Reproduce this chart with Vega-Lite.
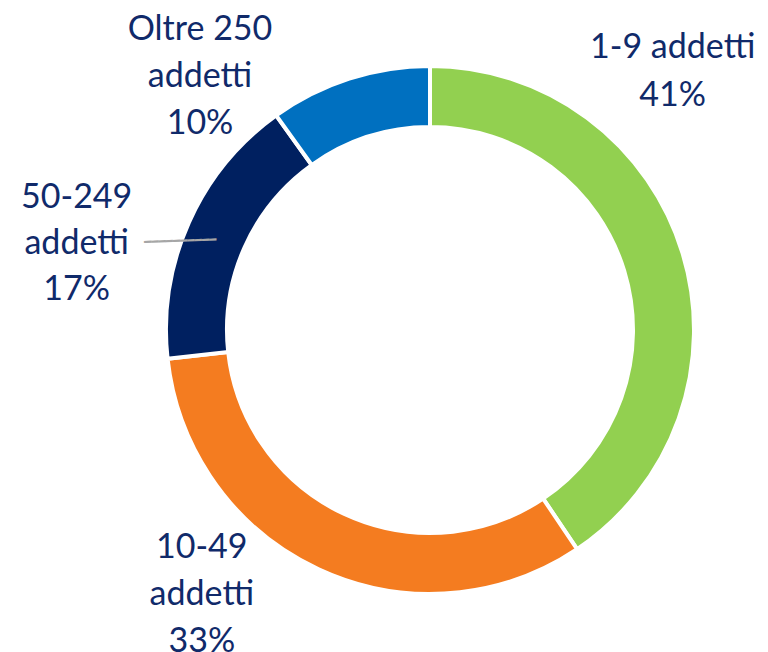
{
  "$schema": "https://vega.github.io/schema/vega-lite/v6.json",
  "width": 676,
  "height": 644,
  "autosize": {"type": "none"},
  "padding": {"left": 92, "top": 8, "right": 0, "bottom": 0},
  "background": "white",
  "config": {"view": {"stroke": null}},
  "data": {
    "values": [
      {"categoria": "1-9 addetti", "quota": 41, "ordine": 1, "etichetta": "1-9 addetti\n41%"},
      {"categoria": "10-49 addetti", "quota": 33, "ordine": 2, "etichetta": "10-49\naddetti\n33%"},
      {"categoria": "50-249 addetti", "quota": 17, "ordine": 3, "etichetta": "50-249\naddetti\n17%"},
      {"categoria": "Oltre 250 addetti", "quota": 10, "ordine": 4, "etichetta": "Oltre 250\naddetti\n10%"}
    ]
  },
  "encoding": {
    "theta": {"field": "quota", "type": "quantitative", "stack": true},
    "order": {"field": "ordine", "type": "quantitative", "sort": "ascending"}
  },
  "layer": [
    {
      "mark": {"type": "arc", "innerRadius": 203, "outerRadius": 264, "stroke": "white", "strokeWidth": 4},
      "encoding": {
        "color": {
          "field": "categoria",
          "type": "nominal",
          "scale": {
            "domain": ["1-9 addetti", "10-49 addetti", "50-249 addetti", "Oltre 250 addetti"],
            "range": ["#92d050", "#f47c20", "#002060", "#0070c0"]
          },
          "legend": null
        }
      }
    },
    {
      "mark": {"type": "text", "radius": 250, "dx": -22, "dy": 12, "font": "DejaVu Sans Mono", "fontSize": 12, "color": "#a6a6a6", "align": "center", "baseline": "middle", "angle": -2, "text": "━━━━━━━━━━"},
      "encoding": {"opacity": {"condition": {"test": "datum.categoria === '50-249 addetti'", "value": 1}, "value": 0}}
    },
    {
      "mark": {"type": "text", "radius": 330, "dx": -73, "dy": -186, "font": "Lato", "fontSize": 34, "lineHeight": 48, "lineBreak": "\n", "color": "#102a6a", "align": "center", "baseline": "middle"},
      "encoding": {"text": {"condition": {"test": "datum.categoria === '1-9 addetti'", "field": "etichetta"}, "value": ""}}
    },
    {
      "mark": {"type": "text", "radius": 330, "dx": -89, "dy": -81, "font": "Lato", "fontSize": 34, "lineHeight": 47, "lineBreak": "\n", "color": "#102a6a", "align": "center", "baseline": "middle"},
      "encoding": {"text": {"condition": {"test": "datum.categoria === '10-49 addetti'", "field": "etichetta"}, "value": ""}}
    },
    {
      "mark": {"type": "text", "radius": 330, "dx": -52, "dy": 3, "font": "Lato", "fontSize": 34, "lineHeight": 46, "lineBreak": "\n", "color": "#102a6a", "align": "center", "baseline": "middle"},
      "encoding": {"text": {"condition": {"test": "datum.categoria === '50-249 addetti'", "field": "etichetta"}, "value": ""}}
    },
    {
      "mark": {"type": "text", "radius": 330, "dx": -129, "dy": 14, "font": "Lato", "fontSize": 34, "lineHeight": 47, "lineBreak": "\n", "color": "#102a6a", "align": "center", "baseline": "middle"},
      "encoding": {"text": {"condition": {"test": "datum.categoria === 'Oltre 250 addetti'", "field": "etichetta"}, "value": ""}}
    }
  ]
}
